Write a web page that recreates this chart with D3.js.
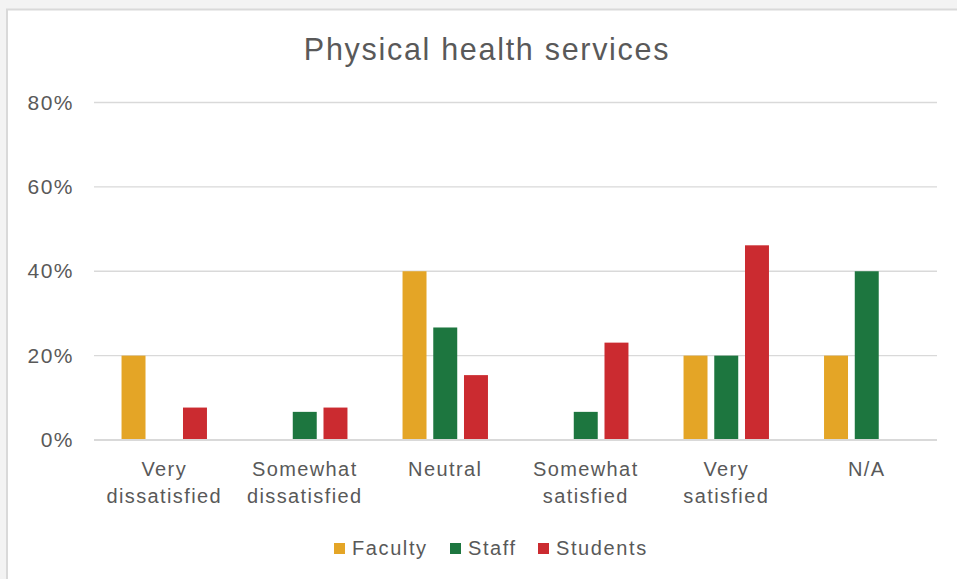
<!DOCTYPE html>
<html>
<head>
<meta charset="utf-8">
<script src="https://cdn.jsdelivr.net/npm/d3@7"></script>
<style>
  body { margin: 0; background: #f3f3f3; }
  svg { display: block; }
  text { font-family: "Liberation Sans", Arimo, Arial, sans-serif; fill: #595959; }
</style>
</head>
<body>
<div id="chart"></div>
<script>
const W = 957, H = 579;

const categories = [["Very", "dissatisfied"], ["Somewhat", "dissatisfied"], ["Neutral"],
                    ["Somewhat", "satisfied"], ["Very", "satisfied"], ["N/A"]];
const seriesNames = ["Faculty", "Staff", "Students"];
const seriesColors = ["#E4A526", "#1D763F", "#CB2B30"];
const faculty  = [20, 0, 40, 0, 20, 20];
const staff    = [0, 6.67, 26.67, 6.67, 20, 40];
const students = [7.69, 7.69, 15.38, 23.08, 46.15, 0];
const yTicks = [0, 20, 40, 60, 80];

const values = [faculty, staff, students];
const catKeys = categories.map(c => c.join(" "));

const svg = d3.select("#chart").append("svg")
    .attr("width", W)
    .attr("height", H);

// chart frame
svg.append("rect")
   .attr("x", 7).attr("y", 9.5)
   .attr("width", W + 10).attr("height", H + 10)
   .attr("fill", "#fff")
   .attr("stroke", "#d9d9d9")
   .attr("stroke-width", 2);

const x0 = d3.scaleBand()
    .domain(catKeys)
    .range([94, 937])
    .paddingInner(0.392)
    .paddingOuter(0.196);

const x1 = d3.scaleBand()
    .domain(seriesNames)
    .range([0, x0.bandwidth()])
    .paddingInner(0.22);

const y = d3.scaleLinear().domain([0, 80]).range([440, 102.5]);

// gridlines
svg.append("g")
   .selectAll("line")
   .data(yTicks.filter(t => t > 0))
   .join("line")
   .attr("x1", 94).attr("x2", 937)
   .attr("y1", d => y(d)).attr("y2", d => y(d))
   .attr("stroke", "#d9d9d9")
   .attr("stroke-width", 1.3);

// y axis labels
const yAxis = svg.append("g")
    .attr("transform", "translate(74,0)")
    .call(d3.axisLeft(y).tickValues(yTicks).tickFormat(d => d + "%").tickSize(0).tickPadding(0));
yAxis.select(".domain").remove();
yAxis.selectAll("text")
     .attr("font-size", 21)
     .attr("letter-spacing", 1.5)
     .attr("fill", "#595959")
     .attr("font-family", "Liberation Sans, Arial, sans-serif");

// bars
const groups = svg.append("g")
    .selectAll("g")
    .data(catKeys)
    .join("g")
    .attr("transform", d => `translate(${x0(d)},0)`);

groups.selectAll("rect")
    .data((d, i) => seriesNames.map((s, j) => ({ s: s, j: j, v: values[j][i] })))
    .join("rect")
    .filter(d => d.v > 0)
    .attr("x", d => x1(d.s))
    .attr("width", x1.bandwidth())
    .attr("y", d => y(d.v))
    .attr("height", d => y(0) - y(d.v))
    .attr("fill", d => seriesColors[d.j]);

// baseline
svg.append("line")
   .attr("x1", 94).attr("x2", 937)
   .attr("y1", y(0)).attr("y2", y(0))
   .attr("stroke", "#d9d9d9")
   .attr("stroke-width", 2);

// category labels
const catLabels = svg.append("g")
    .selectAll("text")
    .data(categories)
    .join("text")
    .attr("x", (d, i) => x0(catKeys[i]) + x0.bandwidth() / 2)
    .attr("y", 476)
    .attr("text-anchor", "middle")
    .attr("font-size", 20)
    .attr("letter-spacing", 1.4);
catLabels.selectAll("tspan")
    .data(d => d)
    .join("tspan")
    .attr("x", function () { return d3.select(this.parentNode).attr("x"); })
    .attr("dy", (d, i) => i === 0 ? 0 : 27)
    .text(d => d);

// title
svg.append("text")
   .attr("x", 487)
   .attr("y", 60)
   .attr("text-anchor", "middle")
   .attr("font-size", 30.5)
   .attr("letter-spacing", 1.7)
   .text("Physical health services");

// legend
const legendX = [334, 450, 538];
const legend = svg.append("g")
    .selectAll("g")
    .data(seriesNames)
    .join("g")
    .attr("transform", (d, i) => `translate(${legendX[i]},543)`);
legend.append("rect")
    .attr("width", 11).attr("height", 11)
    .attr("fill", (d, i) => seriesColors[i]);
legend.append("text")
    .attr("x", 18).attr("y", 12)
    .attr("font-size", 20)
    .attr("letter-spacing", 1.6)
    .text(d => d);
</script>
</body>
</html>
